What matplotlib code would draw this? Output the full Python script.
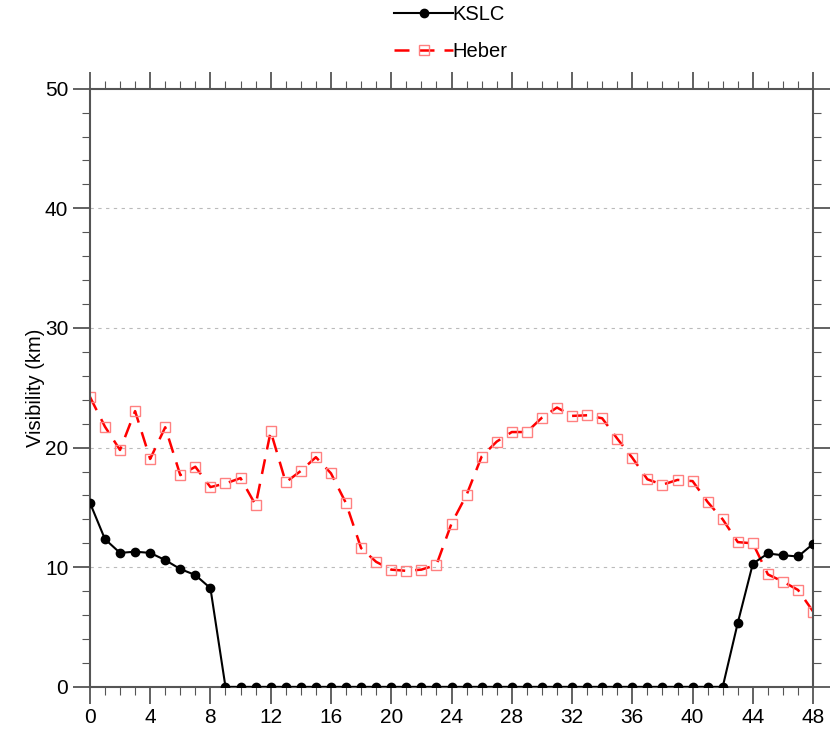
import numpy as np
import matplotlib
matplotlib.use("Agg")
import matplotlib.pyplot as plt
from matplotlib.ticker import MultipleLocator

plt.rcParams['font.family'] = ['Liberation Sans', 'DejaVu Sans']

hours = np.arange(0, 49)

kslc = [15.4, 12.35, 11.2, 11.3, 11.2, 10.6, 9.85, 9.35, 8.25] + [0.0] * 34 + \
       [5.35, 10.3, 11.15, 11.0, 10.9, 11.95]

heber = [24.25, 21.75, 19.8, 23.05, 19.05, 21.7, 17.7, 18.4, 16.7, 17.0,
         17.45, 15.2, 21.35, 17.1, 18.05, 19.2, 17.85, 15.35, 11.6, 10.45,
         9.8, 9.7, 9.8, 10.2, 13.65, 16.05, 19.25, 20.5, 21.3, 21.3,
         22.5, 23.35, 22.65, 22.7, 22.45, 20.75, 19.15, 17.35, 16.9, 17.3,
         17.2, 15.45, 14.0, 12.1, 12.0, 9.4, 8.8, 8.1, 6.3]

fig = plt.figure(figsize=(8.4, 7.45), dpi=100)
ax = fig.add_axes([0.107, 0.078, 0.861, 0.803])

ax.plot(hours, kslc, color='black', linewidth=1.5, marker='o', markersize=6,
        label='KSLC', zorder=3)
ax.plot(hours, heber, color='red', linewidth=1.8, linestyle=(0, (6, 4)),
        marker='s', markersize=7.5, markerfacecolor='none',
        markeredgecolor='#ff8080', markeredgewidth=1.0, label='Heber', zorder=2)

ax.set_xlim(0, 48)
ax.set_ylim(0, 50)
ax.xaxis.set_major_locator(MultipleLocator(4))
ax.xaxis.set_minor_locator(MultipleLocator(1))
ax.yaxis.set_major_locator(MultipleLocator(10))
ax.yaxis.set_minor_locator(MultipleLocator(2))

# dashed grid at the major y ticks
for y in [10, 20, 30, 40]:
    ax.axhline(y, color='#bbbbbb', linewidth=0.8, linestyle=(0, (3, 4)), zorder=1)

ax.tick_params(which='both', direction='out', top=True, right=True,
               color='#555555', labelsize=15)
ax.tick_params(which='major', length=12, width=1.3)
ax.tick_params(which='minor', length=6, width=0.8)
for sp in ax.spines.values():
    sp.set_color('#555555')
    sp.set_linewidth(1.5)

ax.set_ylabel('Visibility (km)', fontsize=14.5, labelpad=0)

fig.legend(*ax.get_legend_handles_labels(), loc='center',
           bbox_to_anchor=(0.537, 0.956), frameon=False,
           fontsize=14.5, handlelength=2.9, handletextpad=0.0, labelspacing=0.9)

fig.savefig('out.png', dpi=100)
